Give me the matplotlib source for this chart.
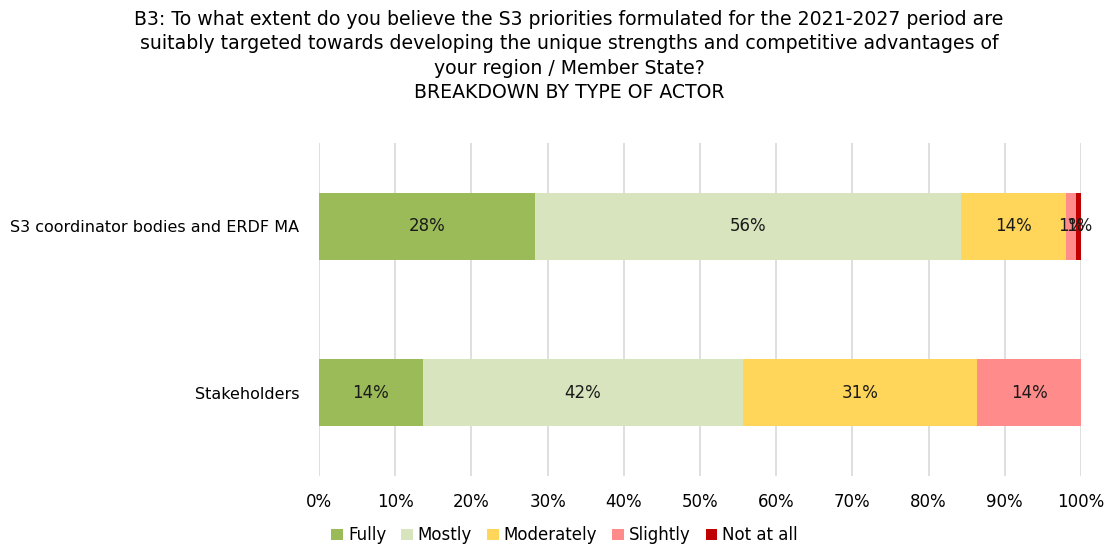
import matplotlib
matplotlib.use("Agg")
from matplotlib import pyplot as plt
from matplotlib.ticker import PercentFormatter
import numpy as np

# survey answers (share of respondents, %)
actors = ["S3 coordinator bodies and ERDF MA", "Stakeholders"]
answers = ["Fully", "Mostly", "Moderately", "Slightly", "Not at all"]
fully = [28.3, 13.6]
mostly = [55.9, 42.0]
moderately = [13.8, 30.8]
slightly = [1.4, 13.6]
not_at_all = [0.7, 0.0]
colors = ["#9BBB59", "#D7E4BD", "#FFD55A", "#FF8B8B", "#C00000"]

plt.rcParams['font.family'] = ['DejaVu Sans']

fig = plt.figure(figsize=(11.07, 5.45), dpi=100)
ax = fig.add_axes([0.2882, 0.1266, 0.6883, 0.611])

series = [fully, mostly, moderately, slightly, not_at_all]
y = np.arange(len(actors))
left = np.zeros(len(actors))
for name, vals, col in zip(answers, series, colors):
    vals = np.array(vals)
    bars = ax.barh(y, vals, left=left, height=0.4, color=col, label=name, zorder=2)
    for b, v in zip(bars, vals):
        if v > 0:
            ax.text(b.get_x() + b.get_width() / 2, b.get_y() + b.get_height() / 2,
                    f"{v:.0f}%", ha="center", va="center", fontsize=12, color="#1a1a1a", zorder=3)
    left += vals

ax.set_xlim(0, 100)
ax.set_ylim(len(actors) - 0.5, -0.5)
ax.set_yticks(y)
ax.set_yticklabels(actors, fontsize=11.5)
ax.set_xticks(np.arange(0, 101, 10))
ax.xaxis.set_major_formatter(PercentFormatter(decimals=0))
ax.tick_params(axis="x", length=0, pad=12, labelsize=12)
ax.tick_params(axis="y", length=0, pad=14)
ax.grid(axis="x", color="#D9D9D9", linewidth=1.2, zorder=0)
for s in ax.spines.values():
    s.set_visible(False)

fig.suptitle("B3: To what extent do you believe the S3 priorities formulated for the 2021-2027 period are\n"
             "suitably targeted towards developing the unique strengths and competitive advantages of\n"
             "your region / Member State?\nBREAKDOWN BY TYPE OF ACTOR",
             x=0.514, y=0.982, fontsize=13.6, linespacing=1.36)

fig.legend(loc="center", bbox_to_anchor=(0.51, 0.018), ncol=5, frameon=False,
           fontsize=12, handlelength=0.7, handleheight=0.7, handletextpad=0.3, columnspacing=0.9)

fig.savefig("out.png", dpi=100)
